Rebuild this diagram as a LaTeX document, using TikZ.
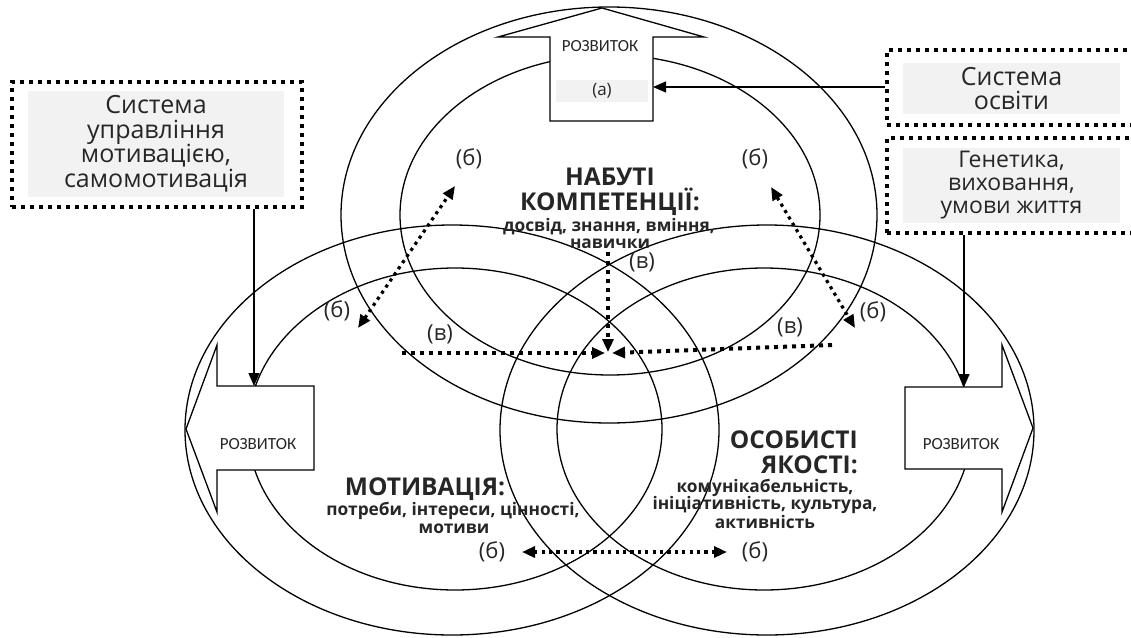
\documentclass[tikz,border=0pt]{standalone}
\usepackage{fontspec}
\setmainfont{Open Sans}
\newfontfamily\condfont{Carlito}
\usetikzlibrary{arrows.meta}
\definecolor{txt}{HTML}{262626}
\definecolor{boxgrey}{HTML}{F2F2F2}
\begin{document}
\begin{tikzpicture}[x=1pt,y=-1pt,
  ell/.style={line width=1.3pt},
  devarrow/.style={draw=black,fill=white,line width=1.3pt},
  devtext/.style={font=\condfont\fontsize{17}{17}\selectfont, text=txt, inner sep=0pt},
  framebox/.style={draw=black, line width=4pt, dash pattern=on 4pt off 5pt, inner sep=0pt},
  greybox/.style={fill=boxgrey, inner sep=0pt, align=center, text=txt},
  solidarr/.style={line width=1.3pt, arrows={-Triangle[length=13pt,width=11pt]}},
  bdot/.style={line width=3.2pt, dash pattern=on 3.2pt off 4.2pt, arrows={Triangle[length=13pt,width=11pt]-Triangle[length=13pt,width=11pt]}},
  vdot/.style={line width=4pt, dash pattern=on 4pt off 5pt, arrows={-Triangle[length=13pt,width=11pt]}},
  lbl/.style={font=\fontsize{22}{22}\selectfont, text=txt, inner sep=0pt},
  headtxt/.style={font=\bfseries\fontsize{24.5}{24.5}\selectfont, text=txt, inner sep=0pt, anchor=base},
  subtxt/.style={font=\bfseries\fontsize{17.3}{17.3}\selectfont, text=txt, inner sep=0pt, anchor=base},
]
\useasboundingbox (0,0) rectangle (1131,637);
\clip (0,0) rectangle (1131,637);

% ellipses
\draw[ell] (609,215) ellipse [x radius=268pt, y radius=208pt];
\draw[ell] (610,215) ellipse [x radius=210pt, y radius=160pt];
\draw[ell] (452,430) ellipse [x radius=267pt, y radius=205pt];
\draw[ell] (455,429) ellipse [x radius=207pt, y radius=161pt];
\draw[ell] (767,430) ellipse [x radius=267pt, y radius=205pt];
\draw[ell] (764,429) ellipse [x radius=207pt, y radius=161pt];

% development arrows
\draw[devarrow] (602,8) -- (704,37) -- (653,37) -- (653,121) -- (550,121) -- (550,37) -- (498,37) -- cycle;
\draw[devarrow] (186,429) -- (217,345) -- (217,386) -- (314,386) -- (314,470) -- (217,470) -- (217,512) -- cycle;
\draw[devarrow] (1033,428) -- (1002,345) -- (1002,387) -- (905,387) -- (905,469) -- (1002,469) -- (1002,512) -- cycle;
\node[devtext] (devT) at (600,46) {РОЗВИТОК};
\node[devtext] (devL) at (258,444) {РОЗВИТОК};
\node[devtext] (devR) at (961,444) {РОЗВИТОК};
\node[greybox, minimum width=92pt, minimum height=22pt, font=\fontsize{17}{17}\selectfont] (aBox) at (602,91) {(a)};

\coordinate (tArrR) at (653,87);
\coordinate (lArrTop) at (254,386);
\coordinate (rArrTop) at (964,387);

% frames with grey text boxes
\node[framebox, minimum width=290pt, minimum height=125pt] (fL) at (157,144.5) {};
\node[greybox, minimum width=256pt, minimum height=106pt, font=\fontsize{25}{24.5}\selectfont] (gL) at (156,144) {Система\\управління\\мотивацією,\\самомотивація};
\node[framebox, minimum width=258pt, minimum height=75pt] (fS) at (1016,87.5) {};
\node[greybox, minimum width=217pt, minimum height=51pt, font=\fontsize{25}{24.5}\selectfont] (gS) at (1011.5,88.5) {Система\\освіти};
\node[framebox, minimum width=258pt, minimum height=95pt] (fG) at (1016,185.5) {};
\node[greybox, minimum width=217pt, minimum height=75pt, font=\fontsize{23}{23}\selectfont] (gG) at (1011.5,185.5) {Генетика,\\виховання,\\умови життя};

% solid connectors
\draw[solidarr] (fL.south -| lArrTop) -- (lArrTop);
\draw[solidarr] (fG.south -| rArrTop) -- (rArrTop);
\draw[solidarr] (fS.west |- tArrR) -- (tArrR);

% dotted arrows (b)
\coordinate (bA1) at (358,328); \coordinate (bA2) at (455,186);
\coordinate (bB1) at (771,187); \coordinate (bB2) at (855,328);
\coordinate (bC1) at (522,552); \coordinate (bC2) at (727,552);
\draw[bdot] (bA1) -- (bA2);
\draw[bdot] (bB1) -- (bB2);
\draw[bdot] (bC1) -- (bC2);

% dotted lines (v)
\coordinate (vTop) at (608,252); \coordinate (vTopEnd) at (608,352);
\coordinate (vL) at (402,353); \coordinate (vLEnd) at (605,353);
\coordinate (vR) at (832,345); \coordinate (vREnd) at (612,353);
\draw[vdot] (vTop) -- (vTopEnd);
\draw[vdot] (vL) -- (vLEnd);
\draw[vdot] (vR) -- (vREnd);

% labels
\node[lbl] (l1) at (469,159) {(б)};
\node[lbl] (l2) at (337,311) {(б)};
\node[lbl] (l3) at (755,159) {(б)};
\node[lbl] (l4) at (873,312) {(б)};
\node[lbl] (l5) at (492,552) {(б)};
\node[lbl] (l6) at (755,552) {(б)};
\node[lbl] (l7) at (642,262) {(в)};
\node[lbl] (l8) at (440,334) {(в)};
\node[lbl] (l9) at (790,327) {(в)};

% headings
\node[headtxt] (hN1) at (610,185) {НАБУТІ};
\node[headtxt] (hN2) at (610,210) {КОМПЕТЕНЦІЇ:};
\node[subtxt] (sN1) at (609,231) {досвід, знання, вміння,};
\node[subtxt] (sN2) at (610,248) {навички};

\node[headtxt] (hM) at (425,495) {МОТИВАЦІЯ:};
\node[subtxt] (sM1) at (453,515) {потреби, інтереси, цінності,};
\node[subtxt] (sM2) at (454,533) {мотиви};

\node[headtxt, anchor=base east] (hO1) at (858,448) {ОСОБИСТІ};
\node[headtxt, anchor=base east] (hO2) at (858,473) {ЯКОСТІ:};
\node[subtxt] (sO1) at (765,492) {комунікабельність,};
\node[subtxt] (sO2) at (765,509) {ініціативність, культура,};
\node[subtxt] (sO3) at (765,528) {активність};
\end{tikzpicture}
\end{document}
